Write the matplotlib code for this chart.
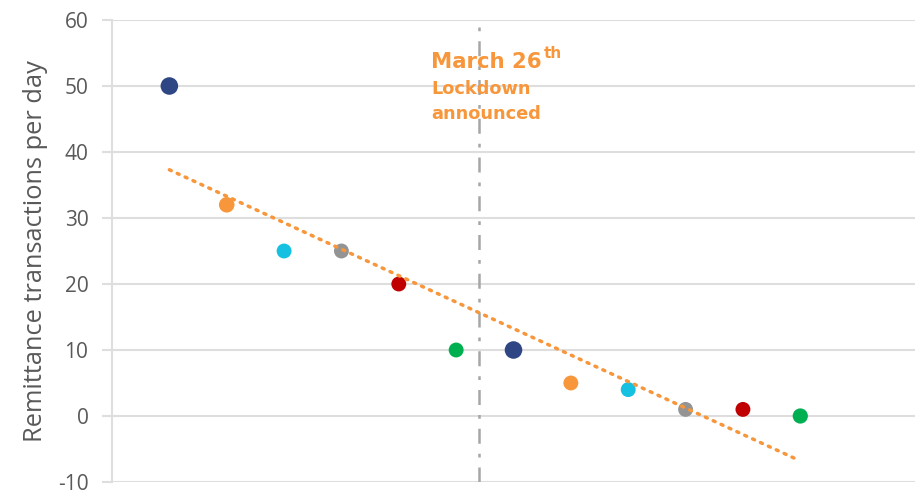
import numpy as np
import matplotlib
matplotlib.use("Agg")
import matplotlib.pyplot as plt

# Daily remittance transactions, one point per observation day
day_index = [1, 2, 3, 4, 5, 6, 7, 8, 9, 10, 11, 12]
transactions = [50, 32, 25, 25, 20, 10, 10, 5, 4, 1, 1, 0]
point_colors = ["#2E4684", "#F7963A", "#15C0E0", "#949494", "#C00000", "#00B050",
                "#2E4684", "#F7963A", "#15C0E0", "#949494", "#C00000", "#00B050"]
point_sizes = [160, 125, 115, 115, 115, 115, 160, 115, 115, 115, 115, 120]
lockdown_x = 6.4
y_ticks = [-10, 0, 10, 20, 30, 40, 50, 60]

plt.rcParams["font.family"] = ["Open Sans", "DejaVu Sans"]
plt.rcParams["axes.unicode_minus"] = False

fig = plt.figure(figsize=(9.2, 4.93), dpi=100)
ax = fig.add_axes([112 / 920, 1 - 482 / 493, (915 - 112) / 920, (482 - 20) / 493])

ax.set_xlim(0, 14)
ax.set_ylim(-10, 60)
ax.set_yticks(y_ticks)
ax.set_xticks([])
ax.grid(axis="y", color="#DEDEDE", linewidth=1.5, zorder=0)
for side in ("top", "right", "bottom"):
    ax.spines[side].set_visible(False)
ax.spines["left"].set_color("#DEDEDE")
ax.spines["left"].set_linewidth(1.5)
ax.tick_params(axis="y", length=7, width=1.5, color="#DEDEDE",
               labelsize=15, labelcolor="#595959", pad=10)
ax.set_ylabel("Remittance transactions per day", fontsize=18.3, color="#595959", labelpad=7)

# Scatter points
ax.scatter(day_index, transactions, s=point_sizes, c=point_colors,
           edgecolors="none", zorder=3)

# Linear trend line
slope, intercept = np.polyfit(day_index, transactions, 1)
trend_x = np.array([day_index[0], day_index[-1] - 0.1])
ax.plot(trend_x, slope * trend_x + intercept, color="#F7963A", linewidth=2.5,
        linestyle=(0, (0.6, 1.9)), dash_capstyle="round", zorder=4)

# Lockdown marker
ax.axvline(lockdown_x, color="#A6A6A6", linewidth=1.8,
           linestyle=(0, (6, 4, 1.5, 4)), zorder=2)

orange = "#F7963A"
t = ax.text(5.57, 52.8, "March 26", fontsize=15.3, fontweight="bold", color=orange,
            family=["DejaVu Sans"], ha="left", va="baseline", zorder=5)
fig.canvas.draw()
bb = t.get_window_extent(fig.canvas.get_renderer())
x_end = ax.transData.inverted().transform((bb.x1, bb.y0))[0]
ax.text(x_end + 0.03, 54.2, "th", fontsize=11, fontweight="bold", color=orange,
        family=["DejaVu Sans"], ha="left", va="baseline", zorder=5)
ax.text(5.57, 48.8, "Lockdown", fontsize=12.8, fontweight="bold", color=orange,
        family=["DejaVu Sans"], ha="left", va="baseline", zorder=5)
ax.text(5.57, 45.0, "announced", fontsize=12.8, fontweight="bold", color=orange,
        family=["DejaVu Sans"], ha="left", va="baseline", zorder=5)

fig.savefig("out.png", dpi=100)
